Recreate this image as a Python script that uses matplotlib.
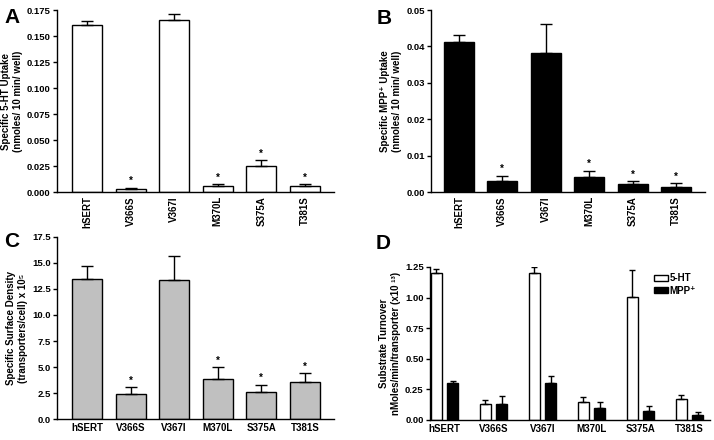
import numpy as np
import matplotlib
matplotlib.use("Agg")
import matplotlib.pyplot as plt

plt.rcParams["font.family"] = ["Liberation Sans", "DejaVu Sans"]
plt.rcParams["font.weight"] = "bold"
plt.rcParams["axes.linewidth"] = 1.0

# ── data ─────────────────────────────────────────────────────────────────────
labels = ["hSERT", "V366S", "V367I", "M370L", "S375A", "T381S"]
significant = [False, True, False, True, True, True]

uptake_5ht     = [0.161, 0.0032, 0.1655, 0.0061, 0.0253, 0.0058]
uptake_5ht_err = [0.0033, 0.0010, 0.0060, 0.0016, 0.0051, 0.0019]

uptake_mpp     = [0.0412, 0.0030, 0.0382, 0.0040, 0.0023, 0.0015]
uptake_mpp_err = [0.0020, 0.0015, 0.0080, 0.0019, 0.0006, 0.0009]

surface     = [13.48, 2.36, 13.32, 3.86, 2.55, 3.58]
surface_err = [1.21, 0.67, 2.33, 1.12, 0.74, 0.86]

turnover_5ht     = [1.204, 0.128, 1.204, 0.149, 1.003, 0.168]
turnover_5ht_err = [0.030, 0.035, 0.046, 0.036, 0.220, 0.039]
turnover_mpp     = [0.299, 0.128, 0.299, 0.098, 0.076, 0.038]
turnover_mpp_err = [0.016, 0.068, 0.060, 0.051, 0.038, 0.025]

x = np.arange(len(labels))

fig = plt.figure(figsize=(7.14, 4.40), dpi=100)
axA = fig.add_axes([0.0798, 0.5636, 0.388, 0.4136])
axB = fig.add_axes([0.6036, 0.5636, 0.3838, 0.4136])
axC = fig.add_axes([0.0798, 0.0477, 0.388, 0.4137])
axD = fig.add_axes([0.6022, 0.0455, 0.3922, 0.3477])


def style(ax, ymax, yticks, fmt):
    ax.spines["top"].set_visible(False)
    ax.spines["right"].set_visible(False)
    ax.set_ylim(0, ymax)
    ax.set_yticks(yticks)
    ax.set_yticklabels([fmt.format(t) for t in yticks], fontsize=6.8, fontweight="bold")
    ax.tick_params(axis="y", direction="out", length=3, width=1, pad=1.5)
    ax.tick_params(axis="x", length=0, pad=3)


def bars(ax, vals, errs, color, rotate, ymax, stars=True):
    ax.bar(x, vals, width=0.69, color=color, edgecolor="black", linewidth=1.0, zorder=2)
    ax.errorbar(x, vals, yerr=[np.zeros(len(vals)), errs], fmt="none",
                ecolor="black", elinewidth=1.0, capsize=4.5, capthick=1.0, zorder=3)
    ax.set_xticks(x)
    if rotate:
        ax.set_xticklabels(labels, rotation=90, fontsize=7, fontweight="bold",
                           va="top", ha="center")
    else:
        ax.set_xticklabels(labels, fontsize=7, fontweight="bold")
    if stars:
        for xi, v, e, s in zip(x, vals, errs, significant):
            if s:
                ax.text(xi, v + e + ymax * 0.008, "*", ha="center", va="bottom",
                        fontsize=7, fontweight="bold")


# ── A: 5-HT uptake ───────────────────────────────────────────────────────────
bars(axA, uptake_5ht, uptake_5ht_err, "white", True, 0.175)
axA.set_xlim(-0.69, 5.67)
style(axA, 0.175, np.arange(0, 0.176, 0.025), "{:.3f}")
axA.set_ylabel("Specific 5-HT Uptake\n(nmoles/ 10 min/ well)", fontsize=7,
               fontweight="bold", labelpad=3)

# ── B: MPP+ uptake ───────────────────────────────────────────────────────────
bars(axB, uptake_mpp, uptake_mpp_err, "black", True, 0.05)
axB.set_xlim(-0.645, 5.67)
style(axB, 0.05, np.arange(0, 0.051, 0.01), "{:.2f}")
axB.set_ylabel("Specific MPP\u207a Uptake\n(nmoles/ 10 min/ well)", fontsize=7,
               fontweight="bold", labelpad=3)

# ── C: surface density ───────────────────────────────────────────────────────
bars(axC, surface, surface_err, "#c0c0c0", False, 17.5)
axC.set_xlim(-0.69, 5.67)
style(axC, 17.5, np.arange(0, 17.6, 2.5), "{:.1f}")
axC.set_ylabel("Specific Surface Density\n(transporters/cell) x 10\u2075", fontsize=7,
               fontweight="bold", labelpad=3)

# ── D: turnover ──────────────────────────────────────────────────────────────
w, off = 0.235, 0.165
axD.bar(x - off, turnover_5ht, width=w, color="white", edgecolor="black",
        linewidth=1.0, label="5-HT", zorder=2)
axD.bar(x + off, turnover_mpp, width=w, color="black", edgecolor="black",
        linewidth=1.0, label="MPP\u207a", zorder=2)
axD.errorbar(x - off, turnover_5ht, yerr=[np.zeros(len(x)), turnover_5ht_err],
             fmt="none", ecolor="black", elinewidth=1.0, capsize=2.5, capthick=1.0, zorder=3)
axD.errorbar(x + off, turnover_mpp, yerr=[np.zeros(len(x)), turnover_mpp_err],
             fmt="none", ecolor="black", elinewidth=1.0, capsize=2.5, capthick=1.0, zorder=3)
axD.set_xticks(x)
axD.set_xticklabels(labels, fontsize=7, fontweight="bold")
axD.set_xlim(-0.296, 5.42)
style(axD, 1.25, np.arange(0, 1.26, 0.25), "{:.2f}")
axD.set_ylabel("Substrate Turnover\nnMoles/min/transporter (x10 \u00b9\u00b3)", fontsize=7,
               fontweight="bold", labelpad=3)
axD.legend(loc="upper right", bbox_to_anchor=(0.95, 0.96), frameon=False,
           fontsize=7, handlelength=1.4, handleheight=0.55, handletextpad=0.2,
           labelspacing=0.25, borderpad=0, borderaxespad=0)

# ── panel letters ────────────────────────────────────────────────────────────
for lab, px, py in [("A", 4, 8), ("B", 377, 9), ("C", 4, 232), ("D", 376, 234)]:
    fig.text(px / 714, 1 - py / 440, lab, fontsize=15, fontweight="bold",
             ha="left", va="top")

fig.savefig("out.png", dpi=100)
